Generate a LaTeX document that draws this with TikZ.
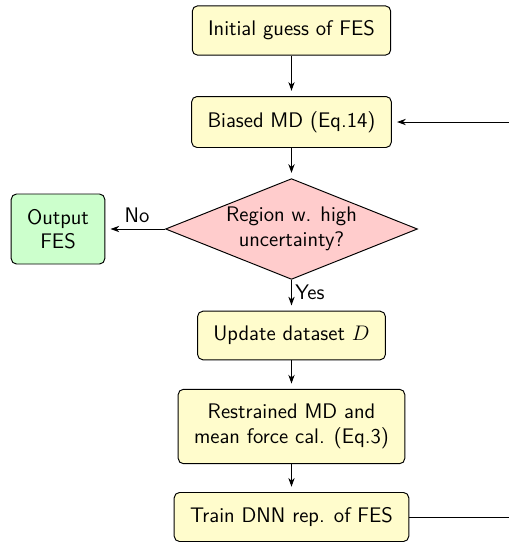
\documentclass[tikz,border=0pt]{standalone}
\usetikzlibrary{shapes.geometric,arrows.meta}
\renewcommand{\familydefault}{\sfdefault}
\tikzset{
  stepbox/.style={rectangle, rounded corners=3pt, draw, fill=yellow!20, inner xsep=9pt, inner ysep=8.5pt, align=center},
  decide/.style={diamond, draw, fill=red!20, shape aspect=2.5, inner sep=1pt, minimum width=5cm, minimum height=1.98cm, align=center},
  outbox/.style={rectangle, rounded corners=3pt, draw, fill=green!20, inner xsep=9pt, inner ysep=8.5pt, align=center},
}
\begin{document}
\begin{tikzpicture}[>={Stealth[length=5pt,width=3.6pt]}, line width=0.55pt, every node/.append style={font=\large}]

      \useasboundingbox (0,0) rectangle (10.18,-10.84);

      \node[stepbox] (1) at (5.83,-0.61)  {Initial guess of FES};
      \node[stepbox] (2) at (5.83,-2.44)  {Biased MD (Eq.14)};
      \node[decide]  (3) at (5.83,-4.58)  {Region w. high\\uncertainty?};
      \node[stepbox] (4) at (5.83,-6.71)  {Update dataset $D$};
      \node[stepbox] (5) at (5.83,-8.53)  {Restrained MD and\\mean force cal. (Eq.3)};
      \node[stepbox] (6) at (5.83,-10.34) {Train DNN rep. of FES};
      \node[outbox]  (7) at (1.16,-4.58)  {Output\\FES};

      \coordinate (r) at (11,0);

      \begin{scope}[every edge/.style={draw, ->, shorten >=3pt}]
        \path (1) edge (2);
        \path (2) edge (3);
        \path (3) edge node[right, pos=0.4, inner sep=2pt] {Yes} (4);
        \path (3) edge node[above, pos=0.47] {No} (7);
        \path (4) edge (5);
        \path (5) edge (6);
      \end{scope}

      \draw[->, shorten >=3pt] (6.east) -- (6.east -| r) |- (2.east);

    \end{tikzpicture}
\end{document}
